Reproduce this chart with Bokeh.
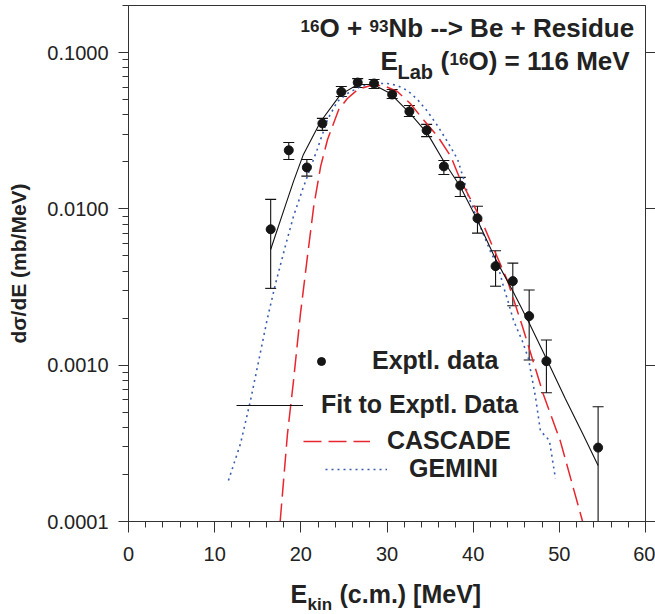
import math
from bokeh.plotting import figure
from bokeh.layouts import column
from bokeh.models import (FixedTicker, PrintfTickFormatter, LogAxis, Whisker, TeeHead,
                          ColumnDataSource, Legend, LegendItem, Label, Range1d, CustomJSTickFormatter)
from bokeh.embed import file_html
from bokeh.resources import INLINE

# ---------------- data ----------------
exp_e = [16.5, 18.6, 20.7, 22.5, 24.7, 26.6, 28.5, 30.6, 32.6, 34.6, 36.6, 38.5,
         40.5, 42.6, 44.6, 46.5, 48.5, 54.5]
exp_v = [0.0074, 0.0237, 0.0184, 0.0352, 0.0560, 0.0643, 0.0634, 0.0539, 0.0420, 0.0318,
         0.0187, 0.0141, 0.0087, 0.0043, 0.00345, 0.00206, 0.00106, 0.000297]
exp_lo = [0.0031, 0.0207, 0.0162, 0.0318, 0.0523, 0.0597, 0.0589, 0.0508, 0.0390, 0.0290,
          0.0166, 0.0120, 0.0070, 0.0032, 0.0024, 0.00108, 0.000666, 0.0001]
exp_hi = [0.0115, 0.0266, 0.0207, 0.0379, 0.0606, 0.0681, 0.0672, 0.0580, 0.0458, 0.0347,
          0.0204, 0.0159, 0.0104, 0.0054, 0.0045, 0.00303, 0.00145, 0.000542]

fit_e = [16.5, 18.0, 19.15, 20.3, 22.3, 24.6, 26.6, 28.4, 30.4, 32.7, 34.7, 36.6, 38.5,
         40.5, 42.6, 44.6, 46.5, 48.6, 50.7, 52.7, 54.5]
fit_v = [0.0055, 0.0097, 0.0150, 0.0223, 0.0362, 0.0538, 0.0624, 0.0624, 0.0547, 0.0407,
         0.0303, 0.0201, 0.0139, 0.00846, 0.00477, 0.00298, 0.00186, 0.00107, 0.00061,
         0.000365, 0.000228]

cas_e = [17.6, 18.45, 19.15, 19.95, 20.8, 21.5, 22.3, 23.1, 24.4, 25.4, 26.6, 28.1, 29.6,
         31.2, 32.7, 34.2, 35.9, 37.4, 38.5, 40.85, 42.35, 44.0, 45.7, 48.15, 50.1, 52.7]
cas_v = [0.0001, 0.000364, 0.000794, 0.00212, 0.00513, 0.0104, 0.0187, 0.0278, 0.0432,
         0.0508, 0.0580, 0.0615, 0.0615, 0.0563, 0.0472, 0.0373, 0.0290, 0.0217, 0.0154,
         0.00871, 0.00560, 0.00345, 0.00178, 0.00065, 0.000329, 0.0001]

gem_e = [11.6, 13.0, 14.15, 15.1, 16.1, 17.05, 18.2, 19.15, 20.2, 21.1, 21.9, 23.1, 24.25,
         25.4, 26.9, 28.4, 30.05, 31.2, 32.4, 33.55, 34.7, 35.85, 37.0, 38.2, 38.9, 39.45,
         40.85, 42.0, 42.95, 43.5, 44.1, 44.7, 45.7, 46.4, 47.25, 47.8, 48.85, 49.55]
gem_v = [0.000183, 0.000315, 0.000592, 0.00106, 0.00197, 0.0033, 0.00577, 0.00897, 0.0133,
         0.0182, 0.024, 0.0373, 0.0487, 0.0547, 0.0605, 0.0634, 0.0634, 0.0615, 0.0571,
         0.050, 0.042, 0.0341, 0.027, 0.0207, 0.0155, 0.012, 0.00764, 0.00535, 0.00418,
         0.00321, 0.0025, 0.00192, 0.00143, 0.00111, 0.000618, 0.000381, 0.000329, 0.000188]

x_major = [0, 10, 20, 30, 40, 50, 60]
x_minor = [v for v in range(0, 61, 2) if v % 10 != 0]
y_major = [0.0001, 0.001, 0.01, 0.1]
y_minor = [k * 10.0 ** d for d in range(-4, 0) for k in range(2, 10)]

FONT = "Liberation Sans"
TXT = "#222222"
AX = "#333333"

p = figure(width=655, height=574, x_range=Range1d(0, 60), y_range=Range1d(1e-4, 0.2),
           y_axis_type="log", output_backend="svg", toolbar_location=None,
           min_border_left=128, min_border_right=10, min_border_top=5, min_border_bottom=53)
p.grid.visible = False
p.outline_line_color = AX
p.outline_line_width = 1
p.background_fill_color = "white"
p.border_fill_color = "white"

xa = p.xaxis[0]
xa.ticker = FixedTicker(ticks=x_major, minor_ticks=x_minor)
xa.major_tick_in = 0
xa.major_tick_out = 11
xa.minor_tick_in = 0
xa.minor_tick_out = 6
xa.major_label_standoff = 14
ya = p.yaxis[0]
ya.ticker = FixedTicker(ticks=y_major, minor_ticks=y_minor)
ya.formatter = PrintfTickFormatter(format="%.4f")
ya.major_tick_in = 0
ya.major_tick_out = 10
ya.minor_tick_in = 0
ya.minor_tick_out = 6
ya.major_label_standoff = 10
ya.axis_label = "dσ/dE (mb/MeV)"
ya.axis_label_text_font = FONT
ya.axis_label_text_font_style = "bold"
ya.axis_label_text_font_size = "21px"
ya.axis_label_text_color = TXT
ya.axis_label_standoff = 14
for ax in (xa, ya):
    ax.axis_line_color = AX
    ax.major_tick_line_color = AX
    ax.minor_tick_line_color = AX
    ax.major_label_text_font = FONT
    ax.major_label_text_font_size = "20px"
    ax.major_label_text_color = TXT

ra = LogAxis(ticker=FixedTicker(ticks=y_major, minor_ticks=[]),
             formatter=CustomJSTickFormatter(code="return ''"),
             major_tick_in=0, major_tick_out=10, minor_tick_in=0, minor_tick_out=0,
             major_label_standoff=0, major_label_text_font_size="1px",
             axis_line_color=AX, major_tick_line_color=AX)
p.add_layout(ra, "right")

# ---------------- curves ----------------
r_gem = p.line(gem_e, gem_v, line_color="#3a5cb0", line_width=1.6, line_dash="2 4")
r_cas = p.line(cas_e, cas_v, line_color="#e8262e", line_width=1.5, line_dash="18 7")
r_fit = p.line(fit_e, fit_v, line_color="#111111", line_width=1.1)

# ---------------- data + error bars ----------------
n_full = len(exp_e) - 1
src_a = ColumnDataSource(dict(x=exp_e[:n_full], lo=exp_lo[:n_full], hi=exp_hi[:n_full]))
src_b = ColumnDataSource(dict(x=exp_e[n_full:], lo=exp_lo[n_full:], hi=exp_hi[n_full:]))
p.add_layout(Whisker(source=src_a, base="x", lower="lo", upper="hi", dimension="height",
                     line_color="#111111", line_width=1.1,
                     upper_head=TeeHead(size=11, line_color="#111111", line_width=1.1),
                     lower_head=TeeHead(size=11, line_color="#111111", line_width=1.1)))
p.add_layout(Whisker(source=src_b, base="x", lower="lo", upper="hi", dimension="height",
                     line_color="#111111", line_width=1.1,
                     upper_head=TeeHead(size=11, line_color="#111111", line_width=1.1),
                     lower_head=None))
r_pts = p.scatter(exp_e, exp_v, size=9, color="#151515")

# ---------------- legend (one box per entry, placed like the reference) ----------------
def add_leg(label, rend, gw, standoff, loc):
    leg = Legend(items=[LegendItem(label=label, renderers=[rend])], location=loc,
                 glyph_width=gw, glyph_height=28, label_height=28, label_standoff=standoff,
                 padding=0, margin=0, border_line_color=None, background_fill_alpha=0,
                 label_text_font=FONT, label_text_font_style="bold",
                 label_text_font_size="25px", label_text_color=TXT)
    p.add_layout(leg)

add_leg("Exptl. data", r_pts, 20, 41, (183, 146))
add_leg("Fit to Exptl. Data", r_fit, 67, 18, (108, 102))
add_leg("CASCADE", r_cas, 67, 17, (175, 66))
add_leg("GEMINI", r_gem, 62, 22, (197, 38))

# ---------------- texts ----------------
def lab(fig, text, x, y, size, **kw):
    fig.add_layout(Label(x=x, y=y, x_units="screen", y_units="screen", text=text,
                         text_font=FONT, text_font_style="bold", text_font_size=size,
                         text_color=TXT, **kw))

# title line 1: 16O + 93Nb --> Be + Residue
lab(p, "16", 172, 490, "17px")
lab(p, "O +", 191, 479, "26px")
lab(p, "93", 241, 490, "17px")
lab(p, "Nb --> Be + Residue", 260, 479, "26px")
# title line 2: E_Lab (16O) = 116 MeV
lab(p, "E", 252, 446, "26px")
lab(p, "Lab", 269, 439, "20px")
lab(p, "(", 312, 446, "26px")
lab(p, "16", 321, 457, "17px")
lab(p, "O) = 116 MeV", 340, 446, "26px")

# x-axis title in a strip below the plot (its frame is aligned with the plot frame)
strip = figure(width=655, height=40, x_range=Range1d(0, 1), y_range=Range1d(0, 1),
               output_backend="svg", toolbar_location=None,
               x_axis_location=None, y_axis_location=None,
               min_border_left=0, min_border_right=0, min_border_top=0, min_border_bottom=0)
strip.grid.visible = False
strip.outline_line_color = None
lab(strip, "E", 162, 7, "25px")
lab(strip, "kin", 179, 1, "17px")
lab(strip, "(c.m.) [MeV]", 211, 7, "25px")

layout = column(p, strip, spacing=0)
open("out.html", "w").write(file_html(layout, INLINE))
